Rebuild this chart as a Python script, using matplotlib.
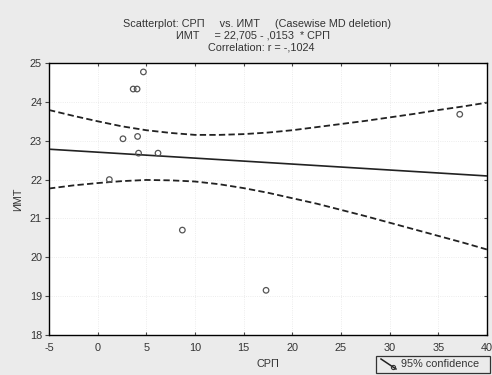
import numpy as np
import matplotlib.pyplot as plt
from matplotlib.lines import Line2D
from matplotlib.patches import Rectangle

plt.rcParams['font.family'] = ['Liberation Sans', 'DejaVu Sans']
plt.rcParams['axes.unicode_minus'] = False

# points (СРП, ИМТ)
srp = [1.2, 2.6, 3.65, 4.05, 4.7, 4.1, 4.2, 6.2, 8.7, 17.3, 37.2]
imt = [22.0, 23.05, 24.33, 24.33, 24.77, 23.11, 22.68, 22.68, 20.7, 19.15, 23.68]

# regression from the title: ИМТ = 22,705 - ,0153 * СРП
intercept = 22.705
slope = -0.0153

# 95% confidence band
band_x = [-5, -2.5, 0, 2.5, 5, 7.5, 10, 12.5, 15, 17.5, 20, 22.5, 25, 27.5, 30, 32.5, 35, 37.5, 40]
band_upper = [23.79, 23.64, 23.50, 23.37, 23.27, 23.20, 23.15, 23.15, 23.17, 23.21, 23.27,
              23.35, 23.43, 23.51, 23.60, 23.69, 23.79, 23.88, 23.98]
band_lower = [21.77, 21.85, 21.91, 21.96, 21.99, 21.98, 21.95, 21.88, 21.78, 21.66, 21.52,
              21.38, 21.22, 21.06, 20.89, 20.72, 20.55, 20.38, 20.20]

x_ticks = [-5, 0, 5, 10, 15, 20, 25, 30, 35, 40]
y_ticks = [18, 19, 20, 21, 22, 23, 24, 25]

W, H = 492, 375
fs = 7.8
fig = plt.figure(figsize=(W / 100, H / 100), dpi=100, facecolor='#ebebeb')
ax = fig.add_axes([49 / W, 1 - 335 / H, (487 - 49) / W, (335 - 63) / H])
ax.set_facecolor('white')

ax.set_xlim(-5, 40)
ax.set_ylim(18, 25)
ax.set_xticks(x_ticks)
ax.set_yticks(y_ticks)
ax.grid(True, color='#e6e6e6', lw=0.6, ls=':')
ax.set_axisbelow(True)

fit_x = np.array([-5, 40])
ax.plot(fit_x, intercept + slope * fit_x, color='#222222', lw=1.2)
ax.plot(band_x, band_upper, color='#222222', lw=1.3, ls=(0, (3.5, 1.8)))
ax.plot(band_x, band_lower, color='#222222', lw=1.3, ls=(0, (3.5, 1.8)))
ax.scatter(srp, imt, s=16, facecolors='none', edgecolors='#555555', linewidths=0.9, zorder=3)

for s in ax.spines.values():
    s.set_color('#444444')
    s.set_linewidth(1.0)

ax.tick_params(axis='x', direction='in', length=2.5, top=True, labelsize=fs,
               colors='#444444', labelcolor='#333333', pad=6)
ax.tick_params(axis='y', direction='out', length=3, labelsize=fs,
               colors='#444444', labelcolor='#333333', pad=2)

# inward ticks on the right edge
axr = ax.twinx()
axr.set_ylim(18, 25)
axr.set_yticks(y_ticks)
axr.tick_params(axis='y', direction='in', length=2.5, colors='#444444', labelright=False)

ax.set_xlabel('СРП', fontsize=fs, color='#333333', labelpad=4)
ax.set_ylabel('ИМТ', fontsize=fs, color='#333333', labelpad=5)

fig.text(257 / W, 1 - 24 / H, 'Scatterplot: СРП     vs. ИМТ     (Casewise MD deletion)',
         ha='center', va='center', fontsize=fs, color='#333333')
fig.text(253 / W, 1 - 36 / H, 'ИМТ     = 22,705 - ,0153  * СРП',
         ha='center', va='center', fontsize=fs, color='#333333')
fig.text(261 / W, 1 - 48 / H, 'Correlation: r = -,1024',
         ha='center', va='center', fontsize=fs, color='#333333')

# legend box under the plot
fig.patches.append(Rectangle((376 / W, 1 - 373 / H), 114 / W, 17 / H, transform=fig.transFigure,
                             facecolor='#ebebeb', edgecolor='#333333', lw=0.9))
fig.lines.append(Line2D([381 / W, 396 / W], [1 - 359 / H, 1 - 369 / H], transform=fig.transFigure,
                        color='#222222', lw=1.1))
fig.lines.append(Line2D([393 / W], [1 - 367 / H], transform=fig.transFigure, marker='o', ms=3,
                        mfc='none', mec='#333333', mew=0.8))
fig.text(401 / W, 1 - 364 / H, '95% confidence', ha='left', va='center', fontsize=fs, color='#333333')

fig.savefig('out.png', dpi=100, facecolor=fig.get_facecolor())
